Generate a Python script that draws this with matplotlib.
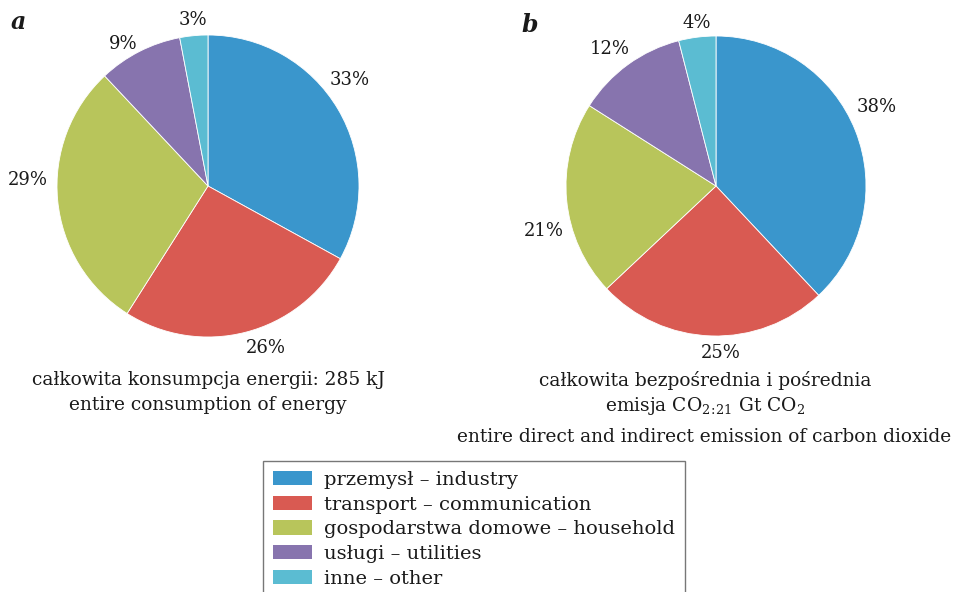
import matplotlib
matplotlib.use("Agg")
import matplotlib.pyplot as plt
from matplotlib.patches import Patch

# sector shares (%) -- clockwise from 12 o'clock
categories = ["przemysł – industry", "transport – communication",
              "gospodarstwa domowe – household", "usługi – utilities",
              "inne – other"]
energy_share = [33, 26, 29, 9, 3]
co2_share = [38, 25, 21, 12, 4]

colors = ["#3a96cc", "#d95a52", "#b8c55b", "#8774ae", "#5bbcd2"]

# where the percent labels sit, in pie-radius units
energy_label_pos = [(0.94, 0.70), (0.38, -1.07), (-1.19, 0.04),
                    (-0.56, 0.94), (-0.10, 1.10)]
co2_label_pos = [(1.07, 0.53), (0.03, -1.11), (-1.15, -0.30),
                 (-0.71, 0.91), (-0.13, 1.09)]

plt.rcParams['font.family'] = ['DejaVu Serif']
plt.rcParams['mathtext.fontset'] = 'dejavuserif'

W, H = 965, 592
fig = plt.figure(figsize=(W / 100, H / 100), dpi=100)


def pie_axes(cx, cy, r):
    # axes sized so that radius 1 pie is r pixels wide, centred at (cx, cy)
    ax = fig.add_axes([(cx - r) / W, (H - cy - r) / H, 2 * r / W, 2 * r / H])
    ax.axis('off')
    return ax


def draw_pie(ax, values, label_pos):
    ax.pie(values, colors=colors, startangle=90, counterclock=False,
           radius=1.0, wedgeprops=dict(edgecolor='white', linewidth=0.6))
    ax.set_xlim(-1, 1)
    ax.set_ylim(-1, 1)
    ax.set_aspect('equal')
    for v, (x, y) in zip(values, label_pos):
        ax.text(x, y, f"{v}%", ha='center', va='center', fontsize=13,
                color='#1a1a1a', clip_on=False)


ax_a = pie_axes(208, 186, 151)
draw_pie(ax_a, energy_share, energy_label_pos)
ax_b = pie_axes(716, 186, 150)
draw_pie(ax_b, co2_share, co2_label_pos)

# panel letters
fig.text(18 / W, 1 - 22 / H, "a", fontsize=17, fontweight='bold',
         style='italic', ha='center', va='center', color='#1a1a1a')
fig.text(530 / W, 1 - 25 / H, "b", fontsize=17, fontweight='bold',
         style='italic', ha='center', va='center', color='#1a1a1a')

# captions
cap = dict(fontsize=13.4, ha='center', va='center', color='#1a1a1a')
fig.text(208 / W, 1 - 380 / H, "całkowita konsumpcja energii: 285 kJ", **cap)
fig.text(208 / W, 1 - 405 / H, "entire consumption of energy", **cap)
fig.text(705 / W, 1 - 380 / H, "całkowita bezpośrednia i pośrednia", **cap)
fig.text(705 / W, 1 - 406 / H,
         r"emisja CO$_{\mathregular{2\!:\!21}}$ Gt CO$_{\mathregular{2}}$",
         **cap)
fig.text(704 / W, 1 - 437 / H,
         "entire direct and indirect emission of carbon dioxide", **cap)

handles = [Patch(facecolor=c, edgecolor='none') for c in colors]
leg = fig.legend(handles, categories, loc='upper left',
                 bbox_to_anchor=(263 / W, 1 - 461 / H), fontsize=14,
                 frameon=True, fancybox=False, edgecolor='#555555',
                 handlelength=2.0, handleheight=0.75, handletextpad=0.65,
                 labelspacing=0.35, borderpad=0.5, borderaxespad=0)
leg.get_frame().set_linewidth(1.0)
for t in leg.get_texts():
    t.set_color('#1a1a1a')

fig.savefig("out.png", dpi=100)
